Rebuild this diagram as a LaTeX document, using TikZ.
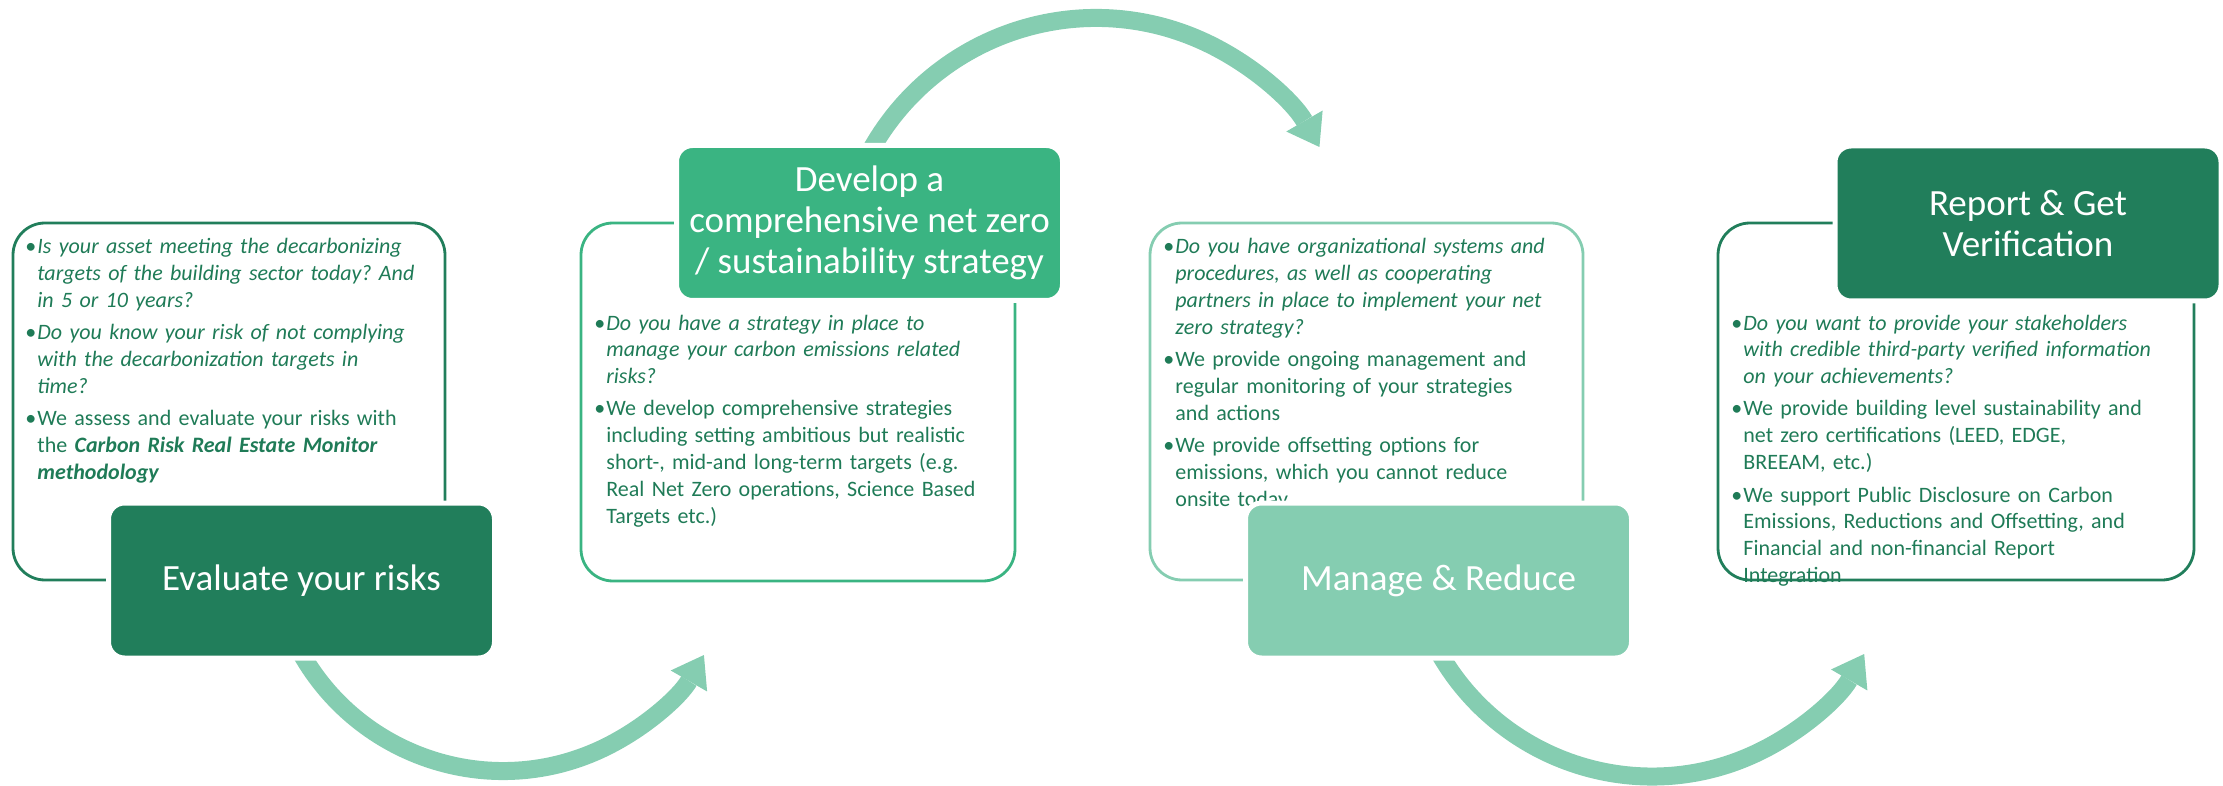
\documentclass[tikz,border=0pt]{standalone}
\usepackage{fontspec}
\setmainfont{Carlito}
\usetikzlibrary{arrows.meta}

\definecolor{darkgreen}{HTML}{217E5B}
\definecolor{midgreen}{HTML}{3AB482}
\definecolor{lightgreen}{HTML}{85CDB1}
\definecolor{notegreen}{HTML}{1F7B57}

\newcommand{\notefont}{\fontsize{11pt}{13.4pt}\selectfont\frenchspacing}
\newcommand{\stagefont}{\fontsize{18.5pt}{20.5pt}\selectfont}
\newcommand{\bpoint}[1]{\setlength{\parskip}{2.8pt}\hangindent=5pt\hangafter=1
  \noindent\makebox[5pt][l]{\kern-1pt•}#1\par}

\begin{document}
\begin{tikzpicture}[x=0.5pt, y=-0.5pt,
    noteframe/.style={line width=1.4pt, rounded corners=16pt, inner sep=0pt},
    stage/.style={draw=white, line width=2.5pt, rounded corners=8pt, minimum width=193pt,
      minimum height=77.5pt, inner sep=0pt, text=white, font=\stagefont, align=center},
    notes/.style={anchor=base west, inner sep=0pt, text width=240pt, font=\notefont,
      text=notegreen, align=left},
    flow/.style={draw=lightgreen, line width=9pt,
      -{Triangle[length=15pt, width=21pt, line width=0pt]}}]
  \useasboundingbox (0,0) rectangle (2223,786);

  % Curved arrows from one stage to the next (behind the stage boxes)
  \coordinate (bend1) at (503,539);
  \coordinate (bend2) at (1096,276);
  \coordinate (bend3) at (1652,531.5);
  \draw [flow] (bend1) ++(155:232) arc [start angle=155, end angle=30, radius=232];
  \draw [flow] (bend2) ++(-155:258) arc [start angle=-155, end angle=-30, radius=258];
  \draw [flow] (bend3) ++(155:245) arc [start angle=155, end angle=30, radius=245];

  % Outlined frames holding the notes
  \node (frame1) at (229,401.5) [noteframe, draw=darkgreen, minimum width=216pt, minimum height=178.5pt] {};
  \node (frame2) at (798,402) [noteframe, draw=midgreen, minimum width=217pt, minimum height=179pt] {};
  \node (frame3) at (1366.5,401.5) [noteframe, draw=lightgreen, minimum width=216.5pt, minimum height=178.5pt] {};
  \node (frame4) at (1956,401.5) [noteframe, draw=darkgreen, minimum width=238pt, minimum height=178.5pt] {};

  % Bullet notes
  \node (notes1) at (27,254) [notes] {%
    \bpoint{\textit{Is your asset meeting the decarbonizing\newline targets of the building sector today? And\newline in 5 or 10 years?}}
    \bpoint{\textit{Do you know your risk of not complying\newline with the decarbonization targets in\newline time?}}
    \bpoint{We assess and evaluate your risks with\newline the \textbf{\textit{Carbon Risk Real Estate Monitor\newline methodology}}}};
  \node (notes2) at (596,330) [notes] {%
    \bpoint{\textit{Do you have a strategy in place to\newline manage your carbon emissions related\newline risks?}}
    \bpoint{We develop comprehensive strategies\newline including setting ambitious but realistic\newline short-, mid-and long-term targets (e.g.\newline Real Net Zero operations, Science Based\newline Targets etc.)}};
  \node (notes3) at (1165,254) [notes] {%
    \bpoint{\textit{Do you have organizational systems and\newline procedures, as well as cooperating\newline partners in place to implement your net\newline zero strategy?}}
    \bpoint{We provide ongoing management and\newline regular monitoring of your strategies\newline and actions}
    \bpoint{We provide offsetting options for\newline emissions, which you cannot reduce\newline onsite today}};
  \node (notes4) at (1733,330) [notes] {%
    \bpoint{\textit{Do you want to provide your stakeholders\newline with credible third-party verified information\newline on your achievements?}}
    \bpoint{We provide building level sustainability and\newline net zero certifications (LEED, EDGE,\newline BREEAM, etc.)}
    \bpoint{We support Public Disclosure on Carbon\newline Emissions, Reductions and Offsetting, and\newline Financial and non-financial Report\newline Integration}};

  % Stage boxes on top
  \node (stage1) at (301.5,580.5) [stage, fill=darkgreen] {Evaluate your risks};
  \node (stage2) at (869.5,223) [stage, fill=midgreen] {Develop a\\comprehensive net zero\\/ sustainability strategy};
  \node (stage3) at (1438.5,580.5) [stage, fill=lightgreen] {Manage \& Reduce};
  \node (stage4) at (2028,223.5) [stage, fill=darkgreen] {Report \& Get\\Verification};
\end{tikzpicture}
\end{document}
